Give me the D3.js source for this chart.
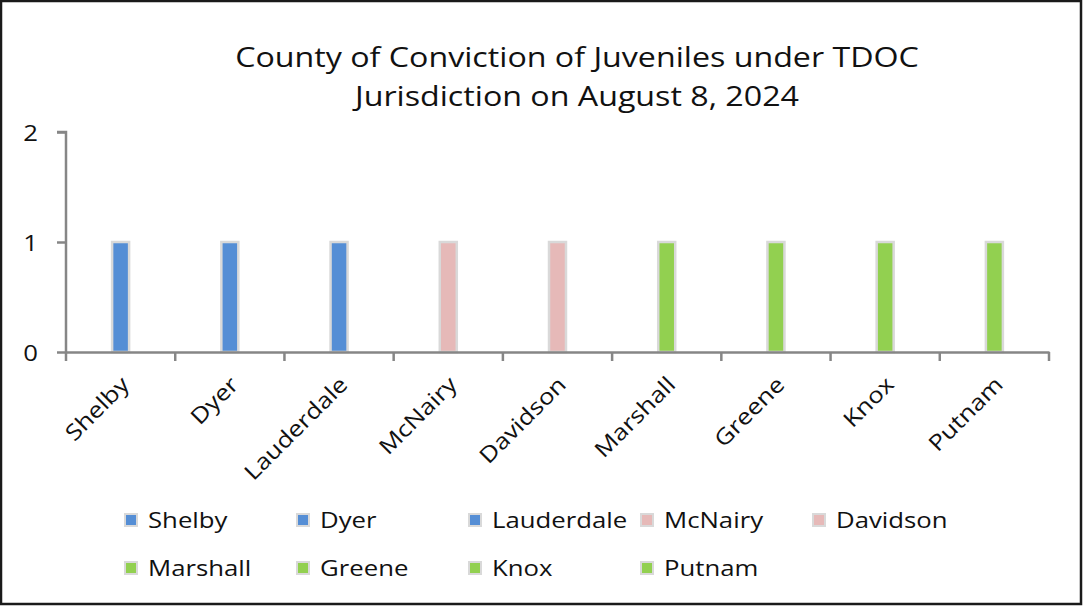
<!DOCTYPE html>
<html><head><meta charset="utf-8">
<script src="https://cdn.jsdelivr.net/npm/d3@7"></script>
<style>html,body{margin:0;padding:0;background:#fff;}</style>
</head><body>
<svg id="c" width="1083" height="606"></svg>
<script>
const categories = ["Shelby","Dyer","Lauderdale","McNairy","Davidson","Marshall","Greene","Knox","Putnam"];
const values = [1,1,1,1,1,1,1,1,1];
const colors = ["#558ED5","#558ED5","#558ED5","#E6B9B8","#E6B9B8","#92D050","#92D050","#92D050","#92D050"];
const yTicks = [0,1,2];
const titleLines = ["County of Conviction of Juveniles under TDOC","Jurisdiction on August 8, 2024"];

(function(){
const svg = d3.select("#c");
const font = "'Open Sans', 'DejaVu Sans', sans-serif";
const sx = 1.17;
svg.append("rect").attr("x",1).attr("y",1).attr("width",1080).attr("height",603)
  .attr("fill","#fff").attr("stroke","#1a1a1a").attr("stroke-width",2.5);

svg.selectAll("text.title").data(titleLines).enter().append("text")
  .attr("transform",(d,i)=>`translate(577,${67+i*39}) scale(${1.15},1)`).attr("text-anchor","middle")
  .attr("font-family",font).attr("font-size",28).attr("fill","#111").text(d=>d);

const pL=66,pR=1049,pT=132,pB=352;
const x = d3.scaleBand().domain(categories).range([pL,pR]);
const y = d3.scaleLinear().domain([0,2]).range([pB,pT]);

// y axis
const ya = svg.append("g").attr("transform",`translate(${pL},0)`)
  .call(d3.axisLeft(y).tickValues(yTicks).tickFormat(d3.format("d")).tickSize(9).tickPadding(0));
ya.select(".domain").attr("stroke","#868686").attr("stroke-width",2.5).attr("d",`M-9,${pT}H0V${pB}`);
ya.selectAll(".tick line").attr("stroke","#868686").attr("stroke-width",2.5);
ya.selectAll(".tick text").attr("x",null).attr("dy",null)
  .attr("transform",`translate(-28,8) scale(${sx},1)`)
  .attr("font-family",font).attr("font-size",22).attr("fill","#111");

// bars
const bw = 17;
svg.selectAll("rect.bar").data(categories).enter().append("rect")
  .attr("x",d=>x(d)+x.bandwidth()/2-bw/2)
  .attr("y",(d,i)=>y(values[i]))
  .attr("width",bw).attr("height",(d,i)=>pB-y(values[i]))
  .attr("fill",(d,i)=>colors[i]).attr("stroke","#d9d9d9").attr("stroke-width",2.5);

// x axis
const xa = svg.append("g").attr("transform",`translate(0,${pB})`)
  .call(d3.axisBottom(x).tickSize(0).tickFormat(""));
xa.select(".domain").attr("stroke","#868686").attr("stroke-width",2.5);
xa.selectAll(".tick").remove();
const edges = categories.map(c=>x(c)).concat([pR]);
svg.selectAll("line.xt").data(edges).enter().append("line")
  .attr("x1",d=>d).attr("x2",d=>d).attr("y1",pB).attr("y2",pB+9)
  .attr("stroke","#868686").attr("stroke-width",2.5);
svg.selectAll("text.xl").data(categories).enter().append("text")
  .attr("transform",d=>`translate(${x(d)+x.bandwidth()/2+10},${pB+34}) rotate(-45) scale(${sx},1)`)
  .attr("text-anchor","end").attr("font-family",font).attr("font-size",22).attr("fill","#111")
  .text(d=>d);

// legend
const lg = svg.append("g");
categories.forEach((c,i)=>{
  const row = i<5?0:1, col = i<5?i:i-5;
  const gx = 125+col*172, gy = 520+row*48;
  lg.append("rect").attr("x",gx).attr("y",gy-6).attr("width",12).attr("height",12)
    .attr("fill",colors[i]).attr("stroke","#d9d9d9").attr("stroke-width",2);
  lg.append("text").attr("transform",`translate(${gx+23},${gy+8}) scale(${sx},1)`)
    .attr("font-family",font).attr("font-size",22).attr("fill","#111").text(c);
});
})();
</script>
</body></html>
